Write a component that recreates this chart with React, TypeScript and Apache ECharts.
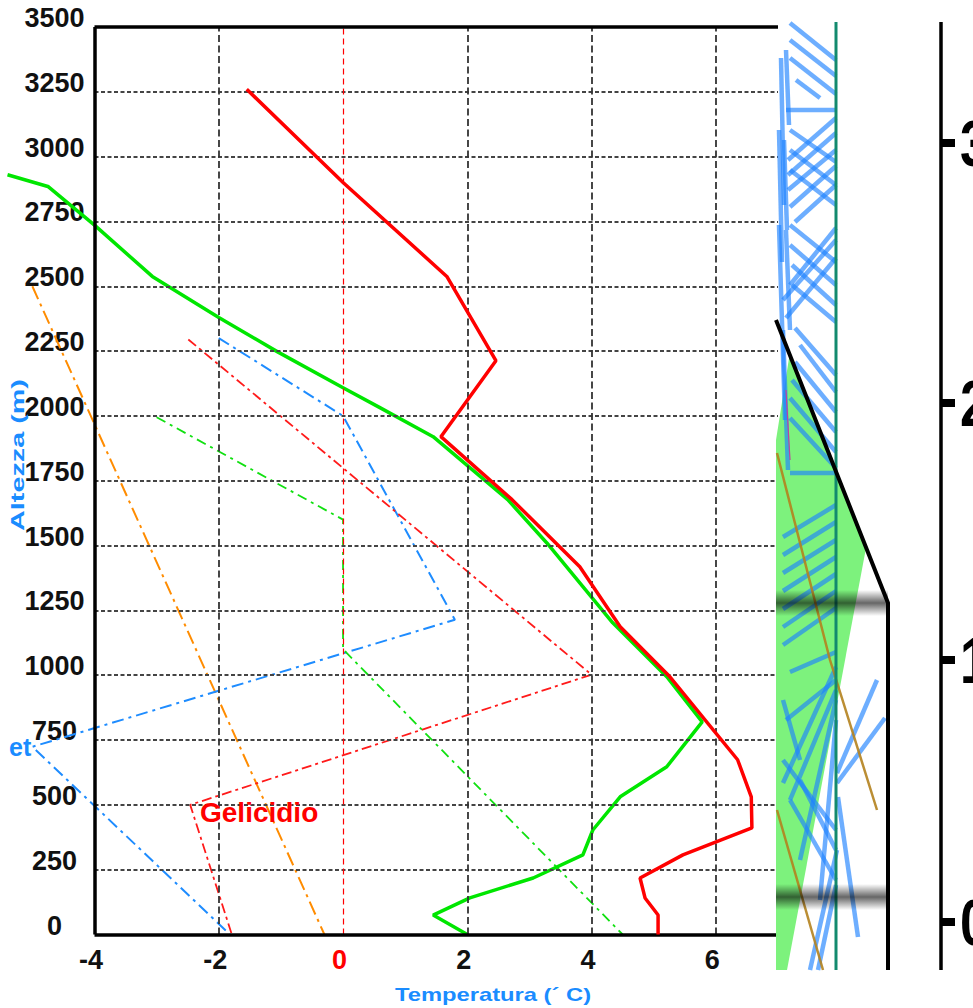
import React, { useEffect, useRef } from 'react';
import * as echarts from 'echarts';

// ---- data (temperature °C vs height m) ----
const tempT = [-1.55, 0, 1.67, 2.46, 1.575, 2.72, 3.81, 4.46, 5.26, 6.35, 6.57, 6.58, 5.47, 4.78, 4.86, 5.07, 5.07];
const tempH = [3260, 2900, 2538, 2213, 1920, 1677, 1418, 1187, 994, 674, 531, 411, 307, 218, 141, 75, 0];

const dewT = [-5.4, -4.75, -4.0, -3.07, -2.0, -1.06, 0, 0.6, 1.45, 2.65, 3.28, 4.34, 5.21, 5.78, 5.21, 4.46, 4.02, 3.86, 3.06, 2.04, 1.45, 2.0];
const dewH = [2930, 2885, 2736, 2538, 2380, 2248, 2109, 2031, 1920, 1677, 1510, 1202, 994, 820, 647, 531, 403, 307, 218, 141, 75, 0];

const blueT = [-2.0, 0, 1.8, -5.0, -1.82];
const blueH = [2300, 2000, 1214, 724, 0];

const redDashT = [-2.49, 4.0, -2.46, -1.79];
const redDashH = [2295, 1002, 500, 0];

const greenDashT = [-3.0, 0, 0, 4.5];
const greenDashH = [1995, 1600, 1100, 0];

const orangeT = [-5.0, -0.3];
const orangeH = [2500, 0];

const X_MIN = -4;
const X_MAX = 7;
const X_EXT_MIN = -5.5; // profiles extend left of the frame
const Y_MIN = 0;
const Y_MAX = 3500;
const xTickLabels = [-4, -2, 0, 2, 4, 6];
const xGridValues = [-2, 2, 4, 6];
const yGridValues = [250, 500, 750, 1000, 1250, 1500, 1750, 2000, 2250, 2500, 2750, 3000, 3250];
const zeroLine = 0;
const rightAxisLabels = ['3', '2', '1', '0'];

const FONT = '"Liberation Sans", Arial, Helvetica, sans-serif';
const BLUE_TXT = '#1a8cff';

const pair = (a: number[], b: number[]) => a.map((v, i) => [v, b[i]]);

// ---- decoration: clipped overlay strip on the right (non-data) ----
const stripBlue: number[][] = [
  [790, 23, 836, 60], [790, 40, 836, 76], [790, 58, 836, 94], [796, 80, 820, 98],
  [786, 110, 836, 110],
  [781, 58, 784, 205], [786, 50, 789, 125], [779, 130, 782, 262], [784, 140, 787, 230],
  [788, 160, 836, 118], [788, 175, 836, 133], [788, 190, 836, 150], [790, 207, 836, 166], [795, 222, 836, 185],
  [790, 130, 836, 162], [790, 150, 836, 185], [790, 170, 836, 205],
  [783, 300, 836, 240], [786, 318, 836, 258], [790, 285, 836, 228],
  [790, 225, 836, 262], [790, 245, 836, 285], [792, 265, 836, 305], [792, 285, 836, 322],
  [795, 328, 836, 375], [800, 345, 836, 392], [795, 362, 836, 412], [792, 380, 836, 432], [790, 398, 836, 452], [790, 418, 836, 468],
  [779, 225, 785, 420], [783, 330, 788, 470], [786, 230, 790, 330],
  [790, 473, 836, 473],
  [783, 537, 836, 505], [783, 555, 836, 522], [783, 573, 836, 540], [783, 591, 836, 557], [783, 609, 836, 574], [783, 627, 836, 591], [783, 645, 836, 608],
  [790, 672, 836, 652], [783, 783, 836, 667], [790, 800, 836, 690], [800, 860, 836, 700], [820, 900, 836, 720],
  [783, 760, 836, 830], [790, 800, 836, 880], [800, 780, 836, 850], [783, 700, 800, 760], [786, 720, 836, 680],
  [810, 970, 837, 850], [818, 970, 836, 885],
  [837, 773, 877, 680], [837, 783, 885, 718], [858, 937, 838, 797],
];

export default function App() {
  const ref = useRef<HTMLDivElement>(null);
  useEffect(() => {
    const chart = echarts.init(ref.current!, null, { renderer: 'svg' });
    const band = (y: number) => ({
      type: 'rect', z: 30,
      shape: { x: 776, y, width: 112, height: 26 },
      style: {
        fill: new echarts.graphic.LinearGradient(0, 0, 0, 1, [
          { offset: 0, color: 'rgba(0,0,0,0)' },
          { offset: 0.5, color: 'rgba(0,0,0,0.6)' },
          { offset: 1, color: 'rgba(0,0,0,0)' },
        ]),
      },
    });
    const txt = (extra: any, style: any) => ({
      type: 'text', z: 40, ...extra,
      style: { fontWeight: 'bold', fontFamily: FONT, align: 'left', verticalAlign: 'middle', textAlign: 'left', textVerticalAlign: 'middle', ...style },
    });
    const graphic: any[] = [
      { type: 'polygon', z: 10, shape: { points: [[790, 352], [866, 548], [787, 970], [776, 970], [776, 440]] }, style: { fill: '#7df27d' } },
      ...stripBlue.map((l) => ({ type: 'line', z: 12, shape: { x1: l[0], y1: l[1], x2: l[2], y2: l[3] }, style: { stroke: 'rgba(30,130,255,0.65)', lineWidth: 4.5 } })),
      { type: 'polyline', z: 13, shape: { points: [[777, 453], [830, 660], [877, 810]] }, style: { stroke: 'rgba(180,130,30,0.9)', lineWidth: 2.5, fill: null } },
      { type: 'line', z: 13, shape: { x1: 777, y1: 810, x2: 823, y2: 970 }, style: { stroke: 'rgba(180,130,30,0.9)', lineWidth: 2.5 } },
      { type: 'line', z: 13, shape: { x1: 786, y1: 390, x2: 790, y2: 460 }, style: { stroke: '#c040a0', lineWidth: 1.2 } },
      { type: 'line', z: 14, shape: { x1: 836, y1: 22, x2: 836, y2: 970 }, style: { stroke: '#138a6e', lineWidth: 3 } },
      band(590), band(884),
      { type: 'polyline', z: 31, shape: { points: [[776, 320], [888, 603], [888, 970]] }, style: { stroke: '#000', lineWidth: 4, fill: null } },
      // right axis fragment
      { type: 'line', z: 31, shape: { x1: 941, y1: 22, x2: 941, y2: 970 }, style: { stroke: '#000', lineWidth: 3.5 } },
      ...[143, 403, 660, 922].map((y, i) => [
        { type: 'rect', z: 31, shape: { x: 941, y: y - 4, width: 14, height: 8 }, style: { fill: '#000' } },
        txt({ x: 960, y, scaleY: 1.25 }, { text: rightAxisLabels[i], fontSize: 52, fill: '#000' }),
      ]).flat(),
      // annotations
      txt({ x: 200, y: 812 }, { text: 'Gelicidio', fontSize: 28, fill: '#ff0000' }),
      txt({ x: 9, y: 747 }, { text: 'et', fontSize: 25, fill: BLUE_TXT }),
      txt({ x: 18, y: 455, rotation: Math.PI / 2, scaleX: 1.6 }, { text: 'Altezza (m)', align: 'center', textAlign: 'center', fontSize: 18, fill: BLUE_TXT }),
      txt({ x: 493, y: 995, scaleX: 1.25 }, { text: 'Temperatura (´ C)', align: 'center', textAlign: 'center', fontSize: 19, fill: BLUE_TXT }),
    ];

    const gridSeries = (z: number, lineStyle: any, data: any[]) => ({
      type: 'line', z, data: [], silent: true,
      markLine: { silent: true, symbol: ['none', 'none'], label: { show: false }, lineStyle, data },
    });

    const option: any = {
      animation: false,
      backgroundColor: '#ffffff',
      grid: { left: 1.3, right: 195, top: 27, bottom: 73.5, containLabel: false, outerBoundsMode: 'none' },
      xAxis: {
        type: 'value', min: X_EXT_MIN, max: X_MAX,
        axisLine: { show: false }, axisTick: { show: false }, splitLine: { show: false },
        axisLabel: {
          customValues: xTickLabels,
          margin: 12, padding: [0, 7, 0, 0],
          color: '#111', fontSize: 27, fontWeight: 'bold', fontFamily: FONT,
          formatter: (v: number) => (v === 0 ? '{r|0}' : String(v)),
          rich: { r: { color: '#ff0000', fontSize: 27, fontWeight: 'bold', fontFamily: FONT } },
        },
      },
      yAxis: {
        type: 'value', min: Y_MIN, max: Y_MAX, interval: 250, offset: -53.2,
        axisLine: { show: false }, axisTick: { show: false }, splitLine: { show: false },
        axisLabel: {
          align: 'center', verticalAlign: 'bottom', lineHeight: 18, margin: 0,
          color: '#111', fontSize: 27, fontWeight: 'bold', fontFamily: FONT,
          formatter: (v: number) => String(v),
        },
      },
      series: [
        gridSeries(1, { color: '#444', width: 2.2, type: [4, 2.5] },
          yGridValues.map((h) => [{ coord: [X_MIN, h] }, { coord: [X_MAX, h] }])),
        gridSeries(1, { color: '#333', width: 1.8, type: [7, 3.5] }, xGridValues.map((v) => ({ xAxis: v }))),
        gridSeries(1, { color: '#ff0000', width: 1.2, type: [6, 4] }, [{ xAxis: zeroLine }]),
        { type: 'line', z: 3, symbol: 'none', data: pair(orangeT, orangeH), lineStyle: { color: '#ff8c00', width: 2, type: [14, 5, 3, 5] } },
        { type: 'line', z: 3, symbol: 'none', data: pair(blueT, blueH), lineStyle: { color: '#1e8cff', width: 2, type: [12, 5, 3, 5] } },
        { type: 'line', z: 3, symbol: 'none', data: pair(redDashT, redDashH), lineStyle: { color: '#ff1a1a', width: 1.8, type: [10, 4, 3, 4] } },
        { type: 'line', z: 3, symbol: 'none', data: pair(greenDashT, greenDashH), lineStyle: { color: '#11e011', width: 1.8, type: [10, 5, 3, 5] } },
        { type: 'line', z: 4, symbol: 'none', data: pair(dewT, dewH), lineStyle: { color: '#00e600', width: 3.5 } },
        { type: 'line', z: 5, symbol: 'none', data: pair(tempT, tempH), lineStyle: { color: '#ff0000', width: 3.5 } },
        gridSeries(6, { color: '#000', width: 3.5, type: 'solid' }, [
          [{ coord: [X_MIN, Y_MIN] }, { coord: [X_MAX, Y_MIN] }],
          [{ coord: [X_MIN, Y_MAX] }, { coord: [X_MAX, Y_MAX] }],
          [{ coord: [X_MIN, Y_MIN] }, { coord: [X_MIN, Y_MAX] }],
        ]),
      ],
      graphic,
    };
    chart.setOption(option);
    return () => chart.dispose();
  }, []);
  return (
    <div
      ref={ref}
      style={{ position: 'absolute', left: 0, top: 0, width: 973, height: 1008, background: '#fff' }}
    />
  );
}
